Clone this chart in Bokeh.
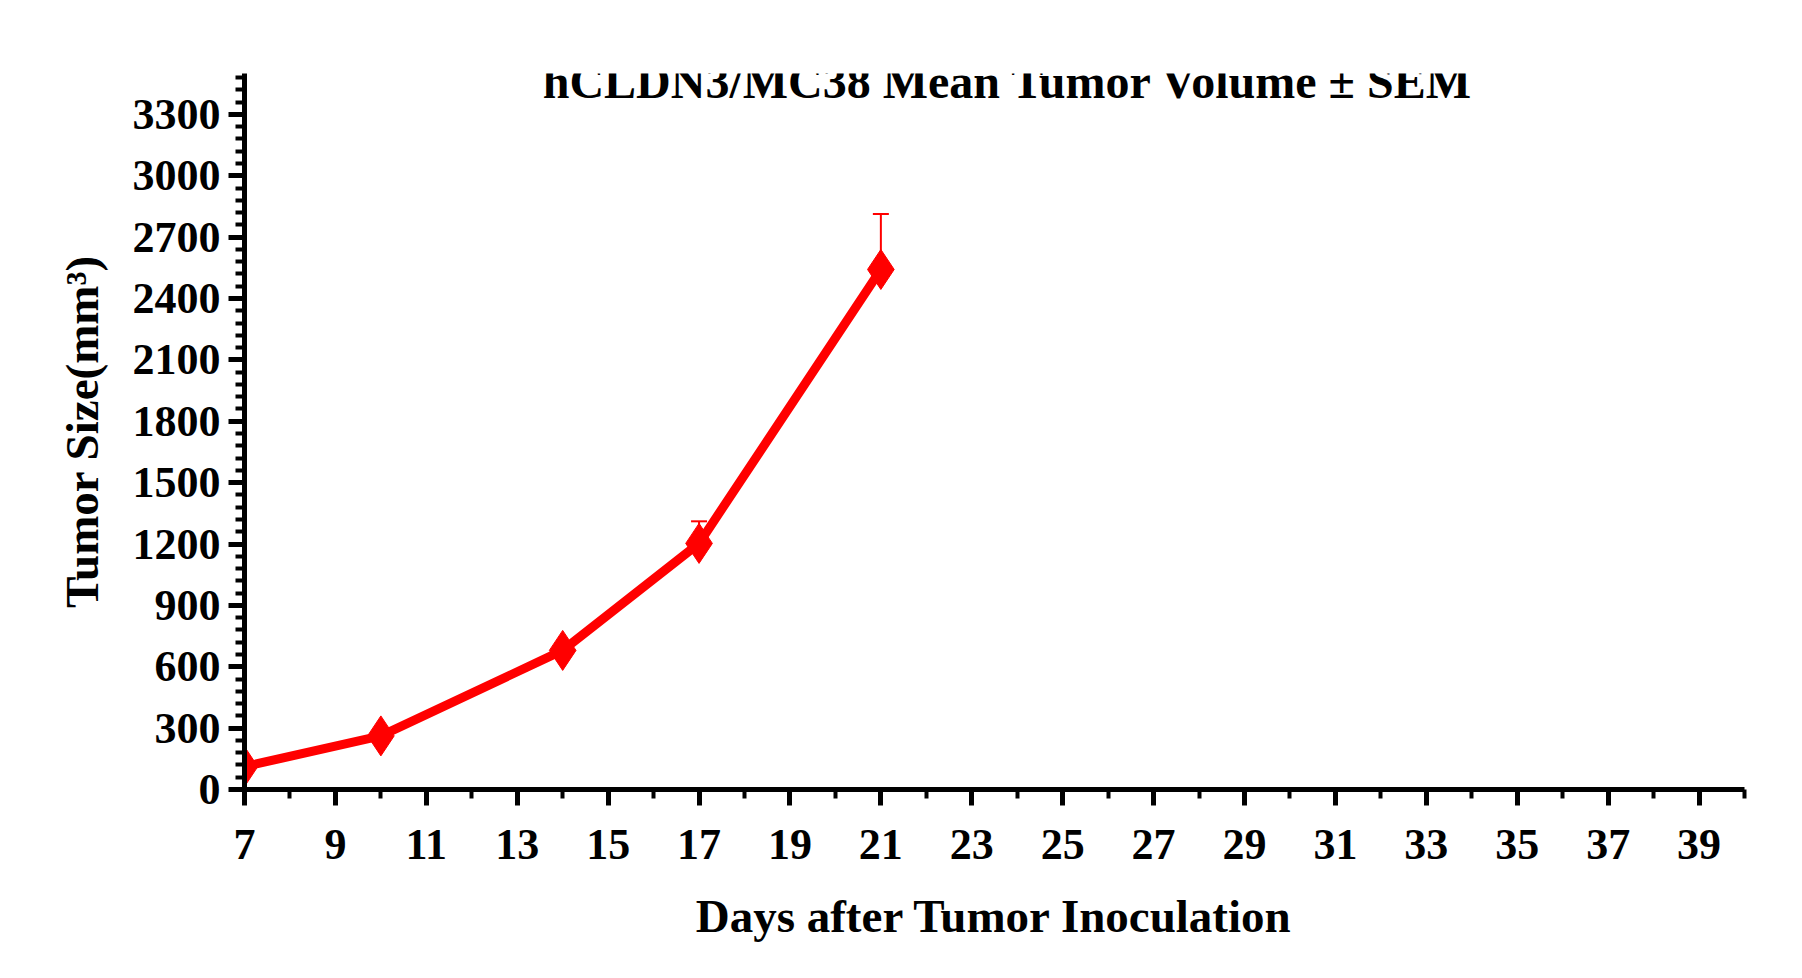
from bokeh.plotting import figure
from bokeh.models import Range1d, FixedTicker, Label, Whisker, ColumnDataSource
from bokeh.embed import file_html
from bokeh.resources import INLINE

days = [7, 10, 14, 17, 21]
mean_vol = [112, 262, 680, 1203, 2542]
sem = [20, 25, 30, 108, 271]
x_ticks = list(range(7, 40, 2))
y_ticks = list(range(0, 3301, 300))
upper = [m + s for m, s in zip(mean_vol, sem)]

FONT = "Liberation Serif"
p = figure(width=1786, height=962, output_backend="svg", toolbar_location=None,
           x_range=Range1d(7, 40), y_range=Range1d(0, 3500),
           min_border_left=244, min_border_right=42, min_border_top=73, min_border_bottom=173)
p.outline_line_color = None
p.grid.visible = False

for ax in (p.xaxis[0], p.yaxis[0]):
    ax.axis_line_width = 5
    ax.major_tick_line_width = 5
    ax.minor_tick_line_width = 4
    ax.major_tick_out = 16
    ax.major_tick_in = 0
    ax.minor_tick_out = 9
    ax.minor_tick_in = 0
    ax.major_label_text_font = FONT
    ax.major_label_text_font_style = "bold"
    ax.major_label_text_font_size = "44px"
    ax.axis_label_text_font = FONT
    ax.axis_label_text_font_style = "bold"
    ax.axis_label_text_font_size = "47px"
    ax.major_label_text_color = "black"
    ax.axis_label_text_color = "black"

p.xaxis.ticker = FixedTicker(ticks=x_ticks, minor_ticks=list(range(7, 41)))
p.yaxis.ticker = FixedTicker(ticks=y_ticks, minor_ticks=list(range(0, 3501, 60)))
p.xaxis.major_label_standoff = 24
p.yaxis.major_label_standoff = 8
p.xaxis.axis_label = "Days after Tumor Inoculation"
p.xaxis.axis_label_standoff = 28
p.yaxis.axis_label = "Tumor Size(mm³)"
p.yaxis.axis_label_standoff = 22

src = ColumnDataSource(dict(x=days, y=mean_vol, up=upper))
w = Whisker(source=src, base="x", lower="y", upper="up", line_color="red", line_width=2)
w.lower_head = None
w.upper_head.line_color = "red"
w.upper_head.line_width = 2
w.upper_head.size = 16
p.add_layout(w)

p.line(days, mean_vol, line_color="red", line_width=9)
p.scatter(days, mean_vol, marker="diamond", size=40, fill_color="red", line_color="red")

p.add_layout(Label(x=23.8, y=3460, text="hCLDN3/MC38 Mean Tumor Volume ± SEM", text_font=FONT,
                   text_font_style="bold", text_font_size="48px", text_align="center",
                   text_baseline="middle", text_color="black"))

open("out.html", "w").write(file_html(p, INLINE))
